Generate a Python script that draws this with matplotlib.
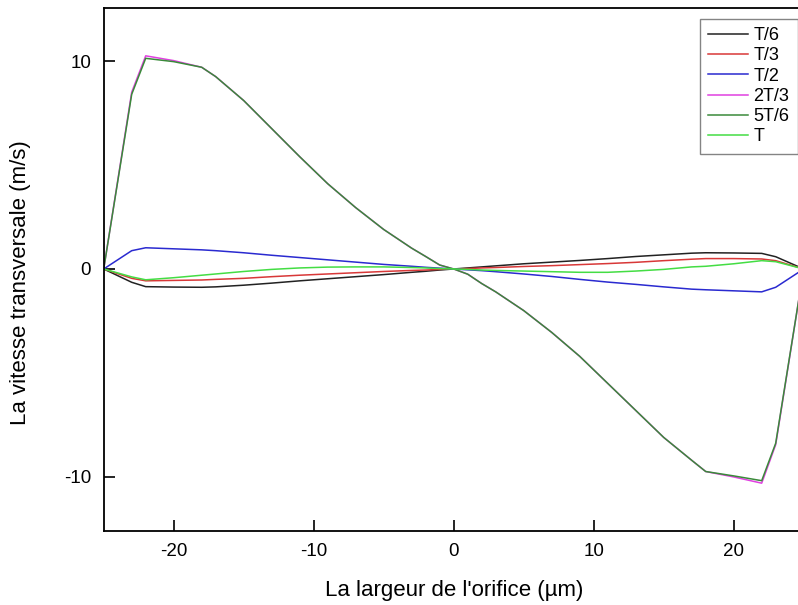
import matplotlib
matplotlib.use("Agg")
import matplotlib.pyplot as plt

plt.rcParams['font.family'] = ['Liberation Sans', 'DejaVu Sans']
plt.rcParams['axes.unicode_minus'] = False

x = [-25, -23, -22, -20, -18, -17, -15, -13, -11, -9, -7, -5, -3, -2, -1, 0,
     1, 2, 3, 5, 7, 9, 11, 13, 15, 17, 18, 20, 22, 23, 25]

t6 = [0, -0.64, -0.85, -0.87, -0.88, -0.86, -0.78, -0.68, -0.57, -0.47, -0.37, -0.27, -0.16, -0.11, -0.05, 0,
      0.05, 0.1, 0.15, 0.25, 0.33, 0.41, 0.5, 0.6, 0.68, 0.76, 0.78, 0.77, 0.75, 0.59, 0]
t3 = [0, -0.45, -0.57, -0.55, -0.53, -0.5, -0.45, -0.37, -0.3, -0.24, -0.18, -0.12, -0.07, -0.05, -0.02, 0,
      0.02, 0.05, 0.07, 0.12, 0.16, 0.21, 0.26, 0.32, 0.4, 0.47, 0.5, 0.5, 0.48, 0.4, 0]
t2 = [0, 0.88, 1.02, 0.97, 0.92, 0.88, 0.78, 0.66, 0.55, 0.44, 0.33, 0.22, 0.13, 0.08, 0.04, 0,
      -0.04, -0.08, -0.13, -0.24, -0.36, -0.5, -0.63, -0.74, -0.86, -0.97, -1.0, -1.05, -1.1, -0.88, 0]
t23 = [0, 8.5, 10.25, 10.02, 9.7, 9.25, 8.1, 6.75, 5.4, 4.1, 2.95, 1.9, 1.0, 0.6, 0.19, 0,
       -0.25, -0.7, -1.1, -2.0, -3.05, -4.2, -5.5, -6.8, -8.1, -9.2, -9.74, -10.0, -10.3, -8.45, 0]
t56 = [0, 8.4, 10.13, 9.97, 9.7, 9.25, 8.1, 6.75, 5.4, 4.1, 2.95, 1.9, 1.0, 0.6, 0.19, 0,
       -0.25, -0.7, -1.1, -2.0, -3.05, -4.2, -5.5, -6.8, -8.1, -9.2, -9.74, -9.95, -10.18, -8.38, 0]
t1 = [0, -0.38, -0.52, -0.42, -0.3, -0.24, -0.12, -0.02, 0.05, 0.09, 0.1, 0.1, 0.07, 0.05, 0.02, 0,
      -0.02, -0.05, -0.07, -0.1, -0.13, -0.16, -0.16, -0.1, -0.02, 0.1, 0.13, 0.25, 0.4, 0.35, 0]

series = [
    ("T/6", t6, "#222222"),
    ("T/3", t3, "#d83838"),
    ("T/2", t2, "#2a2ad0"),
    ("2T/3", t23, "#e040e0"),
    ("5T/6", t56, "#3a8a3a"),
    ("T", t1, "#44dd44"),
]

fig = plt.figure(figsize=(7.98, 6.05), dpi=100)
ax = fig.add_axes([103.7 / 798, 74 / 605, 700 / 798, 523 / 605])

for name, vals, col in series:
    ax.plot(x, vals, color=col, lw=1.1, label=name)

ax.set_xlim(-25, 25)
ax.set_ylim(-12.6, 12.55)
ax.set_xticks([-20, -10, 0, 10, 20])
ax.set_yticks([-10, 0, 10])
ax.tick_params(direction='in', length=8, width=1.2, labelsize=13.5, pad=9)
for sp in ax.spines.values():
    sp.set_linewidth(1.3)

ax.set_xlabel("La largeur de l'orifice (µm)", fontsize=16, labelpad=14)
ax.set_ylabel("La vitesse transversale (m/s)", fontsize=16)
ax.yaxis.set_label_coords(-0.1045, 0.474)

leg = ax.legend(loc='upper right', bbox_to_anchor=(694 / 700, 1 - 11 / 523), fontsize=13,
                frameon=True, fancybox=False, handlelength=2.2, handletextpad=0.3,
                labelspacing=0.18, borderpad=0.45, borderaxespad=0)
leg.get_frame().set_edgecolor('#666666')
leg.get_frame().set_linewidth(1.0)

fig.savefig("out.png", dpi=100)
